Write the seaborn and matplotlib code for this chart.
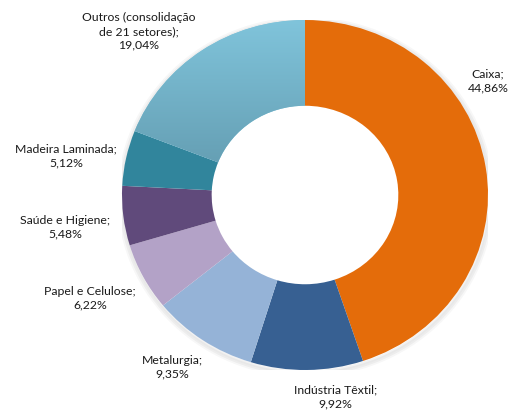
import numpy as np
import seaborn as sns
import matplotlib.pyplot as plt
from matplotlib.patches import Wedge
from matplotlib.colors import LinearSegmentedColormap

sectors = ["Caixa", "Indústria Têxtil", "Metalurgia", "Papel e Celulose",
           "Saúde e Higiene", "Madeira Laminada", "Outros (consolidação\nde 21 setores)"]
shares = [44.86, 9.92, 9.35, 6.22, 5.48, 5.12, 19.04]
colors = ["#E46C0A", "#376092", "#95B3D7", "#B3A2C7", "#604A7B", "#31859C", "#7EC3DA"]

# label anchor points (data coords, donut radius = 1)
label_pos = [(1.00, 0.65), (0.165, -1.155), (-0.725, -0.985), (-1.175, -0.59),
             (-1.31, -0.185), (-1.305, 0.225), (-0.91, 0.935)]

sns.set_theme(style="white")
plt.rcParams['font.family'] = ['Lato', 'DejaVu Sans']

W, H = 511, 419
fig = plt.figure(figsize=(W / 100, H / 100), dpi=100)
cx, cy, rx, ry = 305, 195, 183, 175
ax = fig.add_axes([(cx - rx) / W, (H - cy - ry) / H, 2 * rx / W, 2 * ry / H])
ax.axis('off')

inner = 0.51
# soft shadow ring
for k, a in enumerate([0.05, 0.04, 0.03]):
    ax.add_patch(Wedge((0.004, -0.012), 1.0 + 0.01 * (k + 1), 0, 360,
                       width=0.02, color="#000000", alpha=a, lw=0, zorder=0))

wedges, _ = ax.pie(shares, colors=colors, startangle=90, counterclock=False,
                   radius=1, wedgeprops=dict(width=1 - inner, linewidth=0))
for w in wedges:
    w.set_zorder(2)

# vertical gradient for "Outros"
grad = np.linspace(0, 1, 256).reshape(-1, 1)
cmap = LinearSegmentedColormap.from_list("outros", ["#5E95A9", "#80C4DB"])
img = ax.imshow(grad, cmap=cmap, extent=[-1, 0.05, -0.05, 1.0], origin='lower',
                aspect='auto', zorder=3)
img.set_clip_path(wedges[-1])
ax.set_xlim(-1, 1)
ax.set_ylim(-1, 1)
ax.set_aspect('auto')

for name, val, (x, y) in zip(sectors, shares, label_pos):
    txt = f"{name};\n{val:.2f}%".replace(".", ",")
    ax.text(x, y, txt, ha="center", va="center", fontsize=8.8,
            color="#1a1a1a", linespacing=1.3, clip_on=False, zorder=5)

fig.savefig("out.png", dpi=100)
